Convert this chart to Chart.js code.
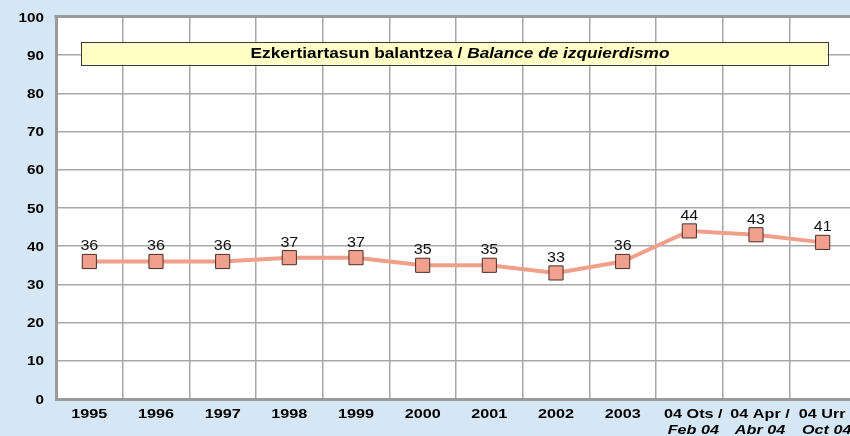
<!DOCTYPE html>
<html>
<head>
<meta charset="utf-8">
<script src="https://cdn.jsdelivr.net/npm/chart.js@4/dist/chart.umd.min.js"></script>
<style>
  html, body { margin: 0; padding: 0; background: #D5E6F5; overflow: hidden; }
  #wrap { width: 850px; height: 436px; overflow: hidden; position: relative; }
  canvas { display: block; }
</style>
</head>
<body>
<div id="wrap"><canvas id="c" width="880" height="436"></canvas></div>
<script>
const categories = ['1995','1996','1997','1998','1999','2000','2001','2002','2003','04 Ots /','04 Apr /','04 Urr /'];
const categoriesSecondLine = ['','','','','','','','','','Feb 04','Abr 04','Oct 04'];
const values = [36, 36, 36, 37, 37, 35, 35, 33, 36, 44, 43, 41];
const yTicks = [0,10,20,30,40,50,60,70,80,90,100];
const boxTextBold = 'Ezkertiartasun balantzea / ';
const boxTextItalic = 'Balance de izquierdismo';

const FONT = '"Liberation Sans", Arial, sans-serif';
const STRETCH = 1.17;

// draw horizontally stretched text; align: 'left' | 'center' | 'right'
function sText(ctx, txt, x, y, align, sx) {
  ctx.save();
  ctx.textAlign = 'left';
  ctx.textBaseline = 'middle';
  const w = ctx.measureText(txt).width * sx;
  let x0 = x;
  if (align === 'center') x0 = x - w / 2;
  else if (align === 'right') x0 = x - w;
  ctx.translate(x0, y);
  ctx.scale(sx, 1);
  ctx.fillText(txt, 0, 0);
  ctx.restore();
  return w;
}

const overlay = {
  id: 'overlay',
  beforeDatasetsDraw(chart) {
    const ctx = chart.ctx, a = chart.chartArea;
    const x = chart.scales.x, y = chart.scales.y;
    ctx.save();
    // top border
    ctx.strokeStyle = '#9a9a9a';
    ctx.lineWidth = 3;
    ctx.beginPath();
    ctx.moveTo(a.left - 1.5, a.top - 0.5);
    ctx.lineTo(a.right, a.top - 0.5);
    ctx.stroke();
    // annotation box
    const bx1 = x.getPixelForValue(0) - 8.5, bx2 = x.getPixelForValue(11) + 5;
    const by1 = y.getPixelForValue(93.5), by2 = y.getPixelForValue(87.5);
    ctx.fillStyle = '#FFFFC6';
    ctx.fillRect(bx1, by1, bx2 - bx1, by2 - by1);
    ctx.strokeStyle = '#3a3a3a';
    ctx.lineWidth = 1;
    ctx.strokeRect(Math.round(bx1) + 0.5, Math.round(by1) + 0.5, Math.round(bx2 - bx1), Math.round(by2 - by1));
    ctx.fillStyle = '#000';
    const sx = 1.15;
    ctx.font = 'bold 15px ' + FONT;
    const w1 = ctx.measureText(boxTextBold).width * sx;
    ctx.font = 'italic bold 15px ' + FONT;
    const w2 = ctx.measureText(boxTextItalic).width * sx;
    const cx = 460;
    const start = cx - (w1 + w2) / 2;
    const cy = (by1 + by2) / 2 + 1;
    ctx.font = 'bold 15px ' + FONT;
    sText(ctx, boxTextBold, start, cy, 'left', sx);
    ctx.font = 'italic bold 15px ' + FONT;
    sText(ctx, boxTextItalic, start + w1, cy, 'left', sx);
    // y tick labels
    ctx.font = 'bold 13px ' + FONT;
    yTicks.forEach(v => {
      sText(ctx, String(v), 44, y.getPixelForValue(v) + 1, 'right', STRETCH);
    });
    ctx.restore();
  },
  afterDraw(chart) {
    const ctx = chart.ctx;
    const meta = chart.getDatasetMeta(0);
    const x = chart.scales.x;
    ctx.save();
    // data labels
    ctx.fillStyle = '#111';
    ctx.font = '14px ' + FONT;
    meta.data.forEach((p, i) => {
      sText(ctx, String(values[i]), p.x, p.y - 15, 'center', 1.15);
    });
    // x labels
    ctx.fillStyle = '#000';
    categories.forEach((c, i) => {
      const two = !!categoriesSecondLine[i];
      const px = x.getPixelForValue(i) + (two ? 4 : 0);
      ctx.font = 'bold 13.5px ' + FONT;
      sText(ctx, c, px, 414, 'center', 1.2);
      if (two) {
        ctx.font = 'italic bold 13.5px ' + FONT;
        sText(ctx, categoriesSecondLine[i], px, 430, 'center', 1.2);
      }
    });
    ctx.restore();
  }
};

const plotBg = {
  id: 'plotBg',
  beforeDraw(chart) {
    const ctx = chart.ctx, a = chart.chartArea;
    ctx.save();
    ctx.fillStyle = '#D5E6F5';
    ctx.fillRect(0, 0, chart.width, chart.height);
    ctx.fillStyle = '#FFFFFF';
    ctx.fillRect(a.left, a.top, a.right - a.left, a.bottom - a.top);
    ctx.restore();
  }
};

new Chart(document.getElementById('c'), {
  type: 'line',
  data: {
    labels: categories,
    datasets: [{
      data: values,
      borderColor: '#F0A08A',
      borderWidth: 4,
      backgroundColor: '#F0A08C',
      pointStyle: 'rect',
      pointRadius: 10,
      pointHoverRadius: 10,
      pointBorderColor: '#4a2e28',
      pointBorderWidth: 1,
      pointBackgroundColor: '#F0A08C',
      tension: 0,
      fill: false
    }]
  },
  options: {
    responsive: false,
    animation: false,
    events: [],
    layout: { padding: { top: 17, left: 0, right: 24, bottom: 0 } },
    plugins: { legend: { display: false }, tooltip: { enabled: false }, title: { display: false } },
    scales: {
      x: {
        type: 'category',
        offset: true,
        grid: { offset: true, color: '#A8A8A8', lineWidth: 1.5, drawTicks: false },
        border: { display: true, color: '#9a9a9a', width: 3 },
        ticks: { display: false },
        afterFit(s) { s.height = 37; }
      },
      y: {
        min: 0, max: 100,
        afterBuildTicks(s) { s.ticks = yTicks.map(v => ({ value: v })); },
        grid: { color: '#A8A8A8', lineWidth: 1.5, drawTicks: false },
        border: { display: true, color: '#9a9a9a', width: 3 },
        ticks: { display: false },
        afterFit(s) { s.width = 56; }
      }
    }
  },
  plugins: [plotBg, overlay]
});
</script>
</body>
</html>
